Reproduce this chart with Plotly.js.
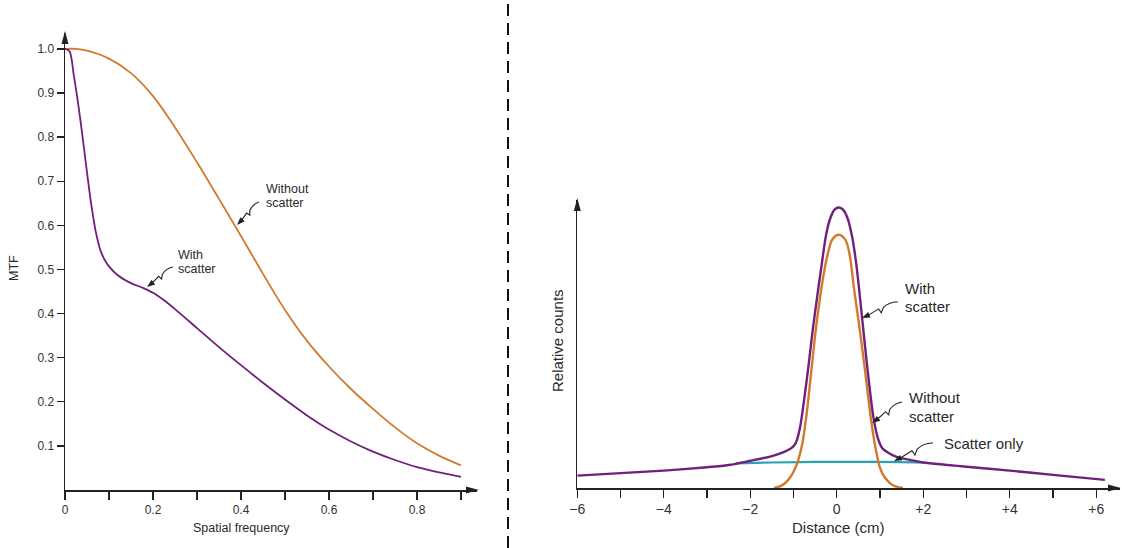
<!DOCTYPE html>
<html>
<head>
<meta charset="utf-8">
<script src="https://cdn.plot.ly/plotly-3.0.1.min.js"></script>
<style>html,body{margin:0;padding:0;background:#fff;}#chart{width:1122px;height:548px;}</style>
</head>
<body>
<div id="chart"></div>
<script>
// ---------- Data ----------
// Left panel: MTF vs spatial frequency
const freqWith = [0,0.01,0.02,0.03,0.04,0.05,0.06,0.07,0.08,0.09,0.1,0.12,0.15,0.175,0.2,0.225,0.25,0.3,0.35,0.4,0.45,0.5,0.55,0.6,0.65,0.7,0.75,0.8,0.85,0.9];
const mtfWith = [1.0,0.995,0.94,0.875,0.80,0.72,0.645,0.585,0.545,0.522,0.507,0.487,0.469,0.459,0.447,0.43,0.41,0.367,0.324,0.283,0.243,0.205,0.169,0.137,0.11,0.087,0.068,0.052,0.04,0.03];
const freqWithout = [0,0.025,0.05,0.1,0.15,0.2,0.25,0.3,0.35,0.4,0.45,0.5,0.55,0.6,0.65,0.7,0.75,0.8,0.85,0.9];
const mtfWithout = [1.0,1.0,0.996,0.978,0.945,0.893,0.822,0.743,0.66,0.576,0.49,0.408,0.338,0.28,0.229,0.184,0.142,0.106,0.078,0.056];
const mtfXTicks = [0,0.1,0.2,0.3,0.4,0.5,0.6,0.7,0.8,0.9];
const mtfXTickText = ['0','','0.2','','0.4','','0.6','','0.8',''];
const mtfYTicks = [0.1,0.2,0.3,0.4,0.5,0.6,0.7,0.8,0.9,1.0];
const mtfYTickText = ['0.1','0.2','0.3','0.4','0.5','0.6','0.7','0.8','0.9','1.0'];

// Right panel: relative counts vs distance (cm)
const distWith = [-6,-5,-4,-3,-2.5,-2,-1.5,-1.2,-1.05,-0.95,-0.85,-0.75,-0.65,-0.55,-0.45,-0.35,-0.25,-0.15,-0.05,0.05,0.15,0.25,0.35,0.45,0.55,0.65,0.75,0.85,0.95,1.05,1.2,1.4,1.7,2.0,2.5,3.0,4.0,5.0,6.2];
const countsWith = [0.044,0.053,0.062,0.074,0.082,0.097,0.114,0.13,0.142,0.16,0.215,0.32,0.44,0.57,0.685,0.795,0.9,0.962,0.993,1.0,0.992,0.962,0.9,0.8,0.66,0.51,0.37,0.25,0.178,0.143,0.125,0.11,0.1,0.091,0.083,0.076,0.062,0.047,0.029];
const distWithout = [-1.45,-1.3,-1.2,-1.1,-1.0,-0.9,-0.8,-0.7,-0.6,-0.5,-0.4,-0.3,-0.2,-0.1,0.05,0.2,0.3,0.4,0.5,0.6,0.7,0.8,0.9,1.0,1.1,1.2,1.3,1.4,1.53];
const countsWithout = [0,0.007,0.017,0.033,0.058,0.095,0.155,0.26,0.40,0.545,0.665,0.765,0.84,0.887,0.903,0.885,0.83,0.71,0.6,0.485,0.36,0.235,0.14,0.072,0.04,0.022,0.01,0.004,0];
const distScatter = [-2.34,-1.5,-0.5,0.5,1.5,2.07];
const countsScatter = [0.088,0.091,0.093,0.093,0.092,0.09];
const distTicks = [-6,-5,-4,-3,-2,-1,0,1,2,3,4,5,6];
const distTickText = ['\u22126','','\u22124','','\u22122','','0','','+2','','+4','','+6'];

// ---------- Styling ----------
const W = 1122, H = 548;
const FONT = 'Liberation Sans, Arial, Helvetica, sans-serif';
const ORANGE = '#d27a2c', PURPLE = '#70207a', TEAL = '#2aa3b3', INK = '#222';
const px = x => x / W, py = y => 1 - y / H;

const traces = [
  {x: freqWithout, y: mtfWithout, xaxis: 'x', yaxis: 'y', mode: 'lines', line: {color: ORANGE, width: 1.8, shape: 'spline', smoothing: 1}, hoverinfo: 'skip'},
  {x: freqWith, y: mtfWith, xaxis: 'x', yaxis: 'y', mode: 'lines', line: {color: PURPLE, width: 1.8, shape: 'spline', smoothing: 0.9}, hoverinfo: 'skip'},
  {x: distScatter, y: countsScatter, xaxis: 'x2', yaxis: 'y2', mode: 'lines', line: {color: TEAL, width: 2.2, shape: 'spline'}, hoverinfo: 'skip'},
  {x: distWithout, y: countsWithout, xaxis: 'x2', yaxis: 'y2', mode: 'lines', line: {color: ORANGE, width: 2.4, shape: 'spline', smoothing: 0.9}, hoverinfo: 'skip'},
  {x: distWith, y: countsWith, xaxis: 'x2', yaxis: 'y2', mode: 'lines', line: {color: PURPLE, width: 2.4, shape: 'spline', smoothing: 0.8}, hoverinfo: 'skip'}
];

// helpers for arrows (pixel positions -> paper)
function P(x, y) { return px(x).toFixed(5) + ',' + py(y).toFixed(5); }
function headShape(tx, ty, ux, uy, len, hw) {
  const bx = tx - ux * len, by = ty - uy * len, nx = -uy, ny = ux;
  return {type: 'path', xref: 'paper', yref: 'paper', line: {width: 0}, fillcolor: INK,
    path: 'M' + P(tx, ty) + ' L' + P(bx + nx * hw, by + ny * hw) + ' L' + P(bx - nx * hw, by - ny * hw) + ' Z'};
}
function squiggle(sx, sy, tx, ty) {
  const dx = tx - sx, dy = ty - sy, L = Math.hypot(dx, dy);
  const ux = dx / L, uy = dy / L, nx = -uy, ny = ux;
  const Q = (t, o) => P(sx + ux * t * L + nx * o * L, sy + uy * t * L + ny * o * L);
  const head = 7, te = 1 - head / L;
  const path = 'M' + Q(0, 0) + ' Q' + Q(0.2, 0.1) + ' ' + Q(0.4, 0.02) +
    ' L' + Q(0.5, -0.08) + ' L' + Q(0.52, 0.04) + ' L' + Q(te, 0);
  return [
    {type: 'path', xref: 'paper', yref: 'paper', path: path, line: {color: INK, width: 1.1}},
    headShape(tx, ty, ux, uy, head + 1, 3)
  ];
}

const shapes = [
  {type: 'line', xref: 'paper', yref: 'paper', x0: px(508), x1: px(508), y0: 0, y1: 1, line: {color: '#111', width: 2, dash: '12px,7px'}},
  headShape(479, 490, 1, 0, 13, 3.5),
  headShape(65, 31, 0, -1, 13, 3.5),
  headShape(1121, 488, 1, 0, 13, 3.5),
  headShape(577.3, 198, 0, -1, 13, 3.5)
].concat(
  squiggle(259, 202, 237, 225),
  squiggle(173, 267, 147, 287),
  squiggle(898, 302, 862, 318),
  squiggle(902, 402, 872, 423),
  squiggle(933, 443, 894, 461)
);

function txt(text, x, y, size, anchor, angle) {
  return {text: text, xref: 'paper', yref: 'paper', x: px(x), y: py(y), xanchor: anchor || 'left', yanchor: 'middle',
    showarrow: false, textangle: angle || 0, font: {family: FONT, size: size, color: '#2a2a2a'}};
}
const annotations = [
  txt('MTF', 14, 268, 12.5, 'center', -90),
  txt('Spatial frequency', 241, 528, 12.5, 'center'),
  txt('Without', 264, 189, 12.5),
  txt('scatter', 264, 203, 12.5),
  txt('With', 176, 255, 12.5),
  txt('scatter', 176, 269, 12.5),
  txt('Relative counts', 557, 341, 15, 'center', -90),
  txt('Distance (cm)', 838, 527, 15, 'center'),
  txt('With', 903, 288, 15),
  txt('scatter', 903, 306, 15),
  txt('Without', 907, 398, 15),
  txt('scatter', 907, 416, 15),
  txt('Scatter only', 942, 443, 15)
];

const axisCommon = {showgrid: false, zeroline: false, showline: true, linecolor: INK, linewidth: 1.5,
  ticks: 'outside', tickcolor: INK, tickwidth: 1.3, fixedrange: true};

const layout = {
  width: W, height: H,
  margin: {l: 0, r: 0, t: 0, b: 0, pad: 0},
  paper_bgcolor: '#fff', plot_bgcolor: 'rgba(0,0,0,0)',
  showlegend: false,
  font: {family: FONT, color: '#333'},
  xaxis: Object.assign({}, axisCommon, {domain: [px(65), px(477)], range: [0, 0.9364], anchor: 'y',
    tickmode: 'array', tickvals: mtfXTicks, ticktext: mtfXTickText, ticklen: 8, tickfont: {family: FONT, size: 12, color: '#333'}}),
  yaxis: Object.assign({}, axisCommon, {domain: [py(490), py(33)], range: [0, 1.036], anchor: 'x',
    tickmode: 'array', tickvals: mtfYTicks, ticktext: mtfYTickText, ticklen: 7, tickfont: {family: FONT, size: 12, color: '#333'}}),
  xaxis2: Object.assign({}, axisCommon, {domain: [px(577.3), px(1120)], range: [-6, 6.55], anchor: 'y2',
    tickmode: 'array', tickvals: distTicks, ticktext: distTickText, ticklen: 8, tickfont: {family: FONT, size: 14, color: '#333'}}),
  yaxis2: Object.assign({}, axisCommon, {domain: [py(488), py(200)], range: [0, 1.027], anchor: 'x2',
    ticks: '', showticklabels: false}),
  shapes: shapes,
  annotations: annotations
};

Plotly.newPlot('chart', traces, layout, {displayModeBar: false, staticPlot: true});
</script>
</body>
</html>
